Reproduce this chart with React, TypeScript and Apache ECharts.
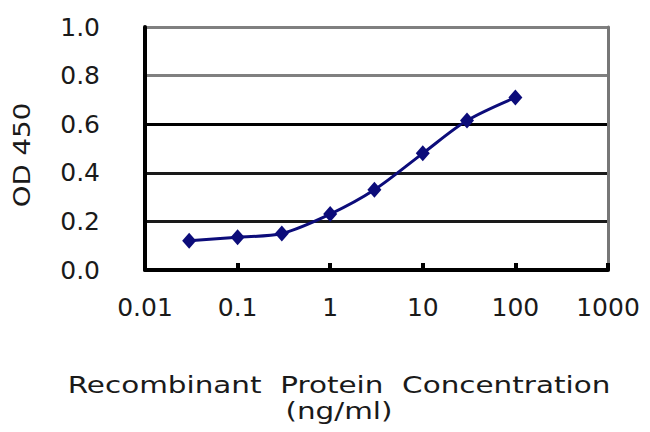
import React, { useEffect, useRef } from "react";
import * as echarts from "echarts";

const concentrations = [0.03, 0.1, 0.3, 1, 3, 10, 30, 100];
const odValues = [0.12, 0.135, 0.15, 0.23, 0.33, 0.48, 0.615, 0.71];
const xTickLabels = ["0.01", "0.1", "1", "10", "100", "1000"];
const yTickLabels = ["0.0", "0.2", "0.4", "0.6", "0.8", "1.0"];
const xTitle = "Recombinant  Protein  Concentration";
const xUnit = "(ng/ml)";
const yTitle = "OD 450";

export default function App() {
  const ref = useRef<HTMLDivElement>(null);
  useEffect(() => {
    document.body.style.margin = "0";
    if (!ref.current) return;
    const chart = echarts.init(ref.current, undefined, { renderer: "svg" });
    const font = "DejaVu Sans";
    chart.setOption({
      animation: false,
      backgroundColor: "#ffffff",
      grid: { left: 145, right: 42, top: 27, bottom: 162, containLabel: false },
      xAxis: {
        type: "log",
        logBase: 10,
        min: 0.01,
        max: 1000,
        axisLine: { show: true, onZero: false, lineStyle: { color: "#000", width: 4 } },
        axisTick: { show: true, inside: true, length: 7, lineStyle: { color: "#000", width: 4 } },
        splitLine: { show: false },
        minorTick: { show: false },
        axisLabel: {
          margin: 25,
          fontFamily: font,
          fontSize: 25,
          color: "#1a1a1a",
          formatter: (_v: number, i: number) => xTickLabels[i] ?? "",
        },
      },
      yAxis: [
        {
          type: "value",
          min: 0,
          max: 1,
          interval: 0.2,
          axisLine: { show: true, lineStyle: { color: "#000", width: 4 } },
          axisTick: { show: false },
          splitLine: {
            show: true,
            lineStyle: { color: ["#000", "#1a1a1a", "#1a1a1a", "#000", "#808080", "#808080"], width: 3 },
          },
          axisLabel: {
            margin: 45,
            fontFamily: font,
            fontSize: 25,
            color: "#1a1a1a",
            formatter: (_v: number, i: number) => yTickLabels[i] ?? "",
          },
        },
        {
          type: "value",
          position: "right",
          min: 0,
          max: 1,
          interval: 0.2,
          axisLine: { show: true, lineStyle: { color: "#777", width: 3 } },
          axisTick: { show: false },
          splitLine: { show: false },
          axisLabel: { show: false },
        },
      ],
      series: [
        {
          type: "line",
          data: concentrations.map((c, i) => [c, odValues[i]]),
          smooth: 0.3,
          symbol: "diamond",
          symbolSize: [14, 16],
          lineStyle: { color: "#0c0c7a", width: 3 },
          itemStyle: { color: "#0c0c7a" },
        },
      ],
      graphic: [
        {
          type: "text",
          x: 339,
          y: 385,
          scaleX: 1.28,
          style: {
            text: xTitle,
            font: `23px "${font}"`,
            fill: "#1a1a1a",
            textAlign: "center",
            textVerticalAlign: "middle",
          },
        },
        {
          type: "text",
          x: 339,
          y: 411,
          scaleX: 1.28,
          style: {
            text: xUnit,
            font: `23px "${font}"`,
            fill: "#1a1a1a",
            textAlign: "center",
            textVerticalAlign: "middle",
          },
        },
        {
          type: "text",
          x: 22,
          y: 155,
          rotation: Math.PI / 2,
          scaleX: 1.2,
          style: {
            text: yTitle,
            font: `23px "${font}"`,
            fill: "#1a1a1a",
            textAlign: "center",
            textVerticalAlign: "middle",
          },
        },
      ],
    });
    return () => chart.dispose();
  }, []);
  return <div ref={ref} style={{ width: 650, height: 432 }} />;
}
